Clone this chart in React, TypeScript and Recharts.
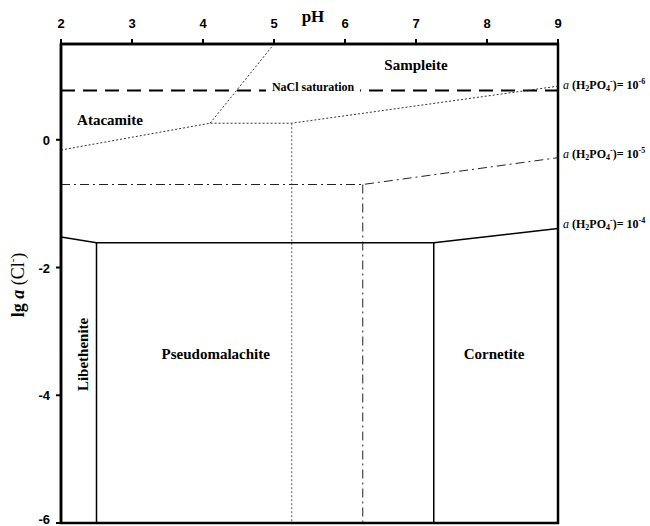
import React from 'react';
import { LineChart, Line, XAxis, YAxis, ReferenceDot, ReferenceArea, Label } from 'recharts';

const phTicks = [2, 3, 4, 5, 6, 7, 8, 9];
const lgTicks = [-6, -4, -2, 0];

const naclLine = [{ x: 2, y: 0.77 }, { x: 9, y: 0.77 }];
const atacamiteBoundary = [{ x: 2, y: -0.16 }, { x: 4.1, y: 0.26 }, { x: 5.25, y: 0.26 }, { x: 9, y: 0.84 }];
const sampleiteBoundary = [{ x: 4.1, y: 0.26 }, { x: 5.0, y: 1.5 }];
const dottedVertical = [{ x: 5.25, y: 0.26 }, { x: 5.25, y: -6 }];
const dashDotBoundary = [{ x: 2, y: -0.7 }, { x: 6.25, y: -0.7 }, { x: 9, y: -0.28 }];
const dashDotVertical = [{ x: 6.25, y: -0.7 }, { x: 6.25, y: -6 }];
const solidBoundary = [{ x: 2, y: -1.52 }, { x: 2.5, y: -1.61 }, { x: 7.25, y: -1.61 }, { x: 9, y: -1.39 }];
const libetheniteVertical = [{ x: 2.5, y: -1.61 }, { x: 2.5, y: -6 }];
const cornetiteVertical = [{ x: 7.25, y: -1.61 }, { x: 7.25, y: -6 }];

const regionLabels = [
  { x: 7.0, y: 1.17, text: 'Sampleite', rotate: false },
  { x: 2.69, y: 0.31, text: 'Atacamite', rotate: false },
  { x: 4.18, y: -3.36, text: 'Pseudomalachite', rotate: false },
  { x: 8.1, y: -3.36, text: 'Cornetite', rotate: false },
  { x: 2.31, y: -3.36, text: 'Libethenite', rotate: true },
];
const naclLabel = { x: 5.55, y: 0.82, text: 'NaCl saturation' };
const phosphateLabels = [
  { y: 0.86, exp: '-6' },
  { y: -0.22, exp: '-5' },
  { y: -1.32, exp: '-4' },
];

const SERIF = '"Liberation Serif", "Times New Roman", serif';
const SANS = '"Liberation Sans", Arial, sans-serif';

const seriesList = [
  { key: 'nacl', data: naclLine, stroke: '#000', width: 2, dash: '14 8' },
  { key: 'atac', data: atacamiteBoundary, stroke: '#333', width: 1, dash: '2 2' },
  { key: 'samp', data: sampleiteBoundary, stroke: '#333', width: 1, dash: '2 2' },
  { key: 'dotv', data: dottedVertical, stroke: '#555', width: 1, dash: '2 2' },
  { key: 'dd', data: dashDotBoundary, stroke: '#222', width: 1, dash: '9 4 2 4' },
  { key: 'ddv', data: dashDotVertical, stroke: '#222', width: 1, dash: '9 4 2 4' },
  { key: 'solid', data: solidBoundary, stroke: '#000', width: 1.5, dash: undefined },
  { key: 'lib', data: libetheniteVertical, stroke: '#000', width: 1.5, dash: undefined },
  { key: 'corn', data: cornetiteVertical, stroke: '#000', width: 1.5, dash: undefined },
];

const TopTick = (props: any) => {
  const { x, y, payload } = props;
  return (
    <text x={x} y={y} dy={-1} textAnchor="middle" fontFamily={SANS} fontWeight="bold" fontSize={13} fill="#000">
      {payload.value}
    </text>
  );
};

const LeftTick = (props: any) => {
  const { x, y, payload } = props;
  const isBottom = payload.value === lgTicks[0];
  return (
    <text x={x} y={y} dy={isBottom ? 1 : 5} textAnchor="end" fontFamily={SANS} fontWeight="bold" fontSize={13} fill="#000">
      {payload.value}
    </text>
  );
};

export default function App() {
  return (
    <div style={{ position: 'absolute', left: 0, top: 0 }}>
      <LineChart width={650} height={526} margin={{ top: 14, left: 21, right: 92, bottom: 3 }}>
        <XAxis
          type="number"
          dataKey="x"
          orientation="top"
          domain={[2, 9]}
          ticks={phTicks}
          interval={0}
          allowDataOverflow
          height={30}
          tickSize={5}
          tickMargin={10}
          tick={<TopTick />}
          axisLine={{ stroke: '#000', strokeWidth: 2.5 }}
          tickLine={{ stroke: '#000', strokeWidth: 2 }}
        >
          <Label
            content={() => (
              <text x={313} y={22} textAnchor="middle" fontFamily={SERIF} fontWeight="bold" fontSize={17} fill="#000">
                pH
              </text>
            )}
          />
        </XAxis>
        <YAxis
          type="number"
          dataKey="y"
          domain={[-6, 1.5]}
          ticks={lgTicks}
          interval={0}
          allowDataOverflow
          width={40}
          tickSize={5}
          tickMargin={6}
          tick={<LeftTick />}
          axisLine={{ stroke: '#000', strokeWidth: 2.5 }}
          tickLine={{ stroke: '#000', strokeWidth: 2 }}
        >
          <Label
            content={() => (
              <text
                x={24}
                y={285}
                transform="rotate(-90 24 285)"
                textAnchor="middle"
                fontFamily={SERIF}
                fontWeight="bold"
                fontSize={18}
                fill="#000"
              >
                <tspan>lg </tspan>
                <tspan fontStyle="italic">a</tspan>
                <tspan fontWeight="normal"> (Cl</tspan>
                <tspan fontWeight="normal" fontSize={11} dy={-8}>-</tspan>
                <tspan fontWeight="normal" dy={8}>)</tspan>
              </text>
            )}
          />
        </YAxis>
        <ReferenceArea x1={2} x2={9} y1={-6} y2={1.5} fill="none" stroke="#000" strokeWidth={2.5} ifOverflow="visible" />
        {seriesList.map((s) => (
          <Line
            key={s.key}
            data={s.data}
            dataKey="y"
            type="linear"
            stroke={s.stroke}
            strokeWidth={s.width}
            strokeDasharray={s.dash}
            dot={false}
            activeDot={false}
            isAnimationActive={false}
          />
        ))}
        <ReferenceDot
          x={naclLabel.x}
          y={naclLabel.y}
          r={0}
          ifOverflow="visible"
          shape={(p: any) => (
            <g>
              <rect x={p.cx - 47} y={p.cy - 8} width={94} height={14} fill="#fff" />
              <text x={p.cx} y={p.cy} dy={4} textAnchor="middle" fontFamily={SERIF} fontWeight="bold" fontSize={12} fill="#000">
                {naclLabel.text}
              </text>
            </g>
          )}
        />
        {regionLabels.map((l) => (
          <ReferenceDot
            key={l.text}
            x={l.x}
            y={l.y}
            r={0}
            ifOverflow="visible"
            shape={(p: any) => (
              <text
                x={p.cx}
                y={p.cy}
                dy={5}
                textAnchor="middle"
                transform={l.rotate ? `rotate(-90 ${p.cx} ${p.cy})` : undefined}
                fontFamily={SERIF}
                fontWeight="bold"
                fontSize={15}
                fill="#000"
              >
                {l.text}
              </text>
            )}
          />
        ))}
        {phosphateLabels.map((l) => (
          <ReferenceDot
            key={l.exp}
            x={9}
            y={l.y}
            r={0}
            ifOverflow="visible"
            shape={(p: any) => (
              <text x={p.cx + 5} y={p.cy} dy={4} fontFamily={SERIF} fontWeight="bold" fontSize={12} fill="#000">
                <tspan fontStyle="italic" fontWeight="normal">a</tspan>
                <tspan> (H</tspan>
                <tspan fontSize={8} dy={2}>2</tspan>
                <tspan dy={-2}>PO</tspan>
                <tspan fontSize={8} dy={2}>4</tspan>
                <tspan fontSize={8} dy={-7}>-</tspan>
                <tspan dy={5}>)= 10</tspan>
                <tspan fontSize={8} dy={-5}>{l.exp}</tspan>
              </text>
            )}
          />
        ))}
      </LineChart>
    </div>
  );
}
